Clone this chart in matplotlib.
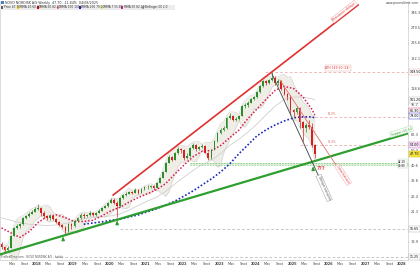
import numpy as np
import pandas as pd
import matplotlib
matplotlib.use("Agg")
import matplotlib.pyplot as plt
from matplotlib.patches import Rectangle
from matplotlib.ticker import NullLocator

first_open = 13.5
closes = [13.0, 12.4, 12.8, 15.1, 16.9, 17.4, 17.8, 19.4, 19.9, 20.6, 21.2, 22.1,
          22.4, 20.9, 19.9, 19.4, 19.9, 19.1, 18.4, 17.6, 17.1, 16.2, 17.8, 17.4,
          18.6, 19.4, 20.3, 19.9, 20.3, 20.9, 20.3, 20.9, 21.5, 22.4, 23.0, 24.0,
          25.0, 24.0, 23.0, 25.7, 26.8, 27.2, 28.0, 27.6, 28.8, 27.6, 29.2, 30.0,
          30.0, 30.4, 29.6, 31.8, 34.1, 37.0, 42.0, 45.7, 43.8, 48.4, 51.2, 50.5,
          45.1, 46.4, 51.9, 54.1, 51.2, 52.6, 53.4, 48.4, 45.1, 50.5, 57.2, 64.0,
          66.8, 68.7, 79.0, 81.2, 76.8, 77.9, 81.2, 93.5, 94.8, 97.5, 103.1, 106.1,
          113.7, 123.7, 132.7, 129.0, 134.6, 138.4, 129.0, 132.7, 118.6, 110.5, 106.1, 88.4,
          85.9, 90.9, 74.6, 68.7, 71.6, 69.6, 54.1, 47.7]
highs = [13.8, 13.2, 13.1, 15.4, 17.2, 17.9, 18.2, 19.7, 20.3, 21.0, 21.6, 22.5,
         23.6, 22.6, 21.3, 20.2, 20.4, 20.2, 19.5, 18.7, 17.9, 17.3, 18.2, 18.1,
         18.9, 19.8, 20.7, 20.8, 20.6, 21.3, 21.2, 21.2, 21.9, 22.8, 23.4, 24.4,
         25.6, 25.6, 24.6, 26.2, 27.3, 27.9, 28.5, 28.3, 29.4, 29.2, 29.7, 30.6,
         30.8, 31.0, 30.7, 32.2, 34.6, 37.6, 42.7, 47.0, 46.6, 48.9, 52.6, 52.0,
         50.9, 48.0, 52.4, 55.9, 54.6, 53.5, 54.8, 53.9, 49.0, 51.0, 57.9, 65.0,
         68.2, 70.0, 80.0, 84.0, 82.5, 79.5, 82.4, 95.0, 97.0, 100.3, 104.2, 107.5,
         115.0, 125.0, 134.5, 135.0, 136.0, 149.5, 141.0, 135.5, 134.0, 122.0, 112.0, 109.0,
         90.0, 93.5, 91.5, 76.0, 74.0, 77.0, 73.0, 55.0]
lows = [12.6, 12.1, 12.2, 12.7, 15.0, 16.6, 17.0, 17.6, 19.1, 19.6, 20.4, 21.0,
        21.8, 20.1, 19.3, 18.8, 19.0, 18.8, 18.0, 17.3, 16.8, 15.5, 16.0, 16.6,
        17.1, 18.4, 19.2, 19.5, 19.6, 20.1, 20.0, 20.1, 20.7, 21.3, 22.2, 22.8,
        23.8, 23.5, 19.6, 22.8, 25.4, 26.4, 27.0, 27.1, 27.4, 27.1, 27.4, 28.9,
        29.1, 29.6, 28.9, 29.4, 31.6, 33.8, 36.8, 41.7, 42.9, 43.6, 47.9, 48.3,
        44.0, 44.3, 45.8, 51.3, 49.4, 50.3, 51.9, 48.0, 43.8, 44.6, 50.0, 56.6,
        63.2, 65.4, 68.0, 78.0, 75.5, 75.8, 77.0, 80.8, 90.6, 91.5, 96.8, 101.0,
        104.5, 112.6, 122.5, 124.8, 127.0, 132.5, 126.0, 124.5, 117.0, 108.5, 102.0, 83.0,
        80.0, 83.5, 69.0, 57.5, 64.5, 68.0, 52.5, 45.1]

# moyennes mobiles relevees tous les 3 mois (index du mois)
ma_idx = list(range(0, 103, 3)) + [103]
mma50 = [16.9, 15.8, 14.8, 16.0, 18.2, 19.8, 20.3, 19.5, 18.5, 18.5, 18.8, 20.0,
         21.5, 22.6, 24.3, 25.9, 27.3, 28.9, 31.5, 36.0, 40.8, 45.9, 49.5, 50.0,
         53.5, 59.8, 66.4, 78.2, 89.5, 102.5, 116.3, 122.7, 119.1, 106.5, 89.3, 82.2]
mma100 = [19.5, 18.8, 18.2, 17.8, 17.6, 17.5, 17.6, 18.0, 18.6, 19.25, 19.55, 19.7,
          20.0, 20.6, 21.7, 23.2, 24.6, 26.0, 28.2, 31.3, 34.5, 37.8, 41.1, 43.6,
          47.9, 53.7, 58.5, 64.7, 72.6, 82.5, 93.2, 102.3, 105.8, 105.7, 103.2, 101.2]
ma200_idx = list(range(27, 103, 3)) + [103]
mma200 = [17.8, 18.1, 18.4, 18.8, 19.1, 19.7, 20.3, 21.2, 22.1, 23.3, 24.6, 26.4,
          28.4, 30.9, 33.6, 37.0, 41.4, 47.7, 54.1, 61.4, 66.8, 71.6, 75.7, 79.0,
          80.1, 80.1, 79.0]

# droites tracees (annee, prix)
resist_t, resist_p = [2020.10, 2026.81], [26.8, 383.7]
support_t, support_p = [2017.0, 2028.18], [11.65, 63.6]
fall_t, fall_p = [2024.45, 2025.99], [146.3, 26.1]
fall2_t, fall2_p = [2024.67, 2026.51], [134.2, 32.2]
fib_levels = [80.0, 54.0]
support_zone = [40.8, 42.1]
old_levels = [16.65, 11.25]
arrows_t = [2018.73, 2020.21, 2025.58]
arrows_p = [15.5, 19.4, 41.4]

# graduations visibles (les autres sont cachees par les etiquettes)
y_ticks = [13.9, 21.3, 26.4, 32.8, 40.6, 50.3, 62.3, 95.7, 118.6,
           182.1, 225.6, 279.5, 346.3]
years = list(range(2018, 2029))

W, H = 420, 265
fig = plt.figure(figsize=(W / 100, H / 100), dpi=100)
ax = fig.add_axes([0, 1 - 259.5 / H, 408 / W, 258.5 / H])
ax.set_xlim(2017.0, 2017 + 408 / 36.5)
ax.set_yscale("log")
ax.set_ylim(10.86, 405.9)

t = np.array([2017 + (i + 0.5) / 12 for i in range(len(closes))])
s = pd.Series(closes)
opens = [first_open] + closes[:-1]

# bandes de Bollinger
mid = s.rolling(5, min_periods=1).mean()
sd = s.rolling(5, min_periods=1).std(ddof=0)
upper, lower = mid + 2 * sd, mid - 2 * sd
ax.fill_between(t, lower, upper, color="#efeee6", lw=0, zorder=1)
ax.plot(t, upper, color="#cfcfcf", lw=0.4, zorder=1.2)
ax.plot(t, lower, color="#cfcfcf", lw=0.4, zorder=1.2)

# zones / niveaux horizontaux
ax.fill_between([2022.2, 2028.2], support_zone[0], support_zone[1], color="#dff0d8", lw=0, zorder=1.1)
for lv in support_zone:
    ax.plot([2022.2, 2028.2], [lv, lv], color="#5cb85c", lw=0.4, ls=(0, (3, 2)), zorder=1.3)
ath = max(highs)
ax.plot([2024.26, 2028.2], [ath, ath], color="#e8a0a0", lw=0.5, ls=(0, (4, 3)), zorder=1.3)
for lv in fib_levels:
    ax.plot([2025.22, 2028.2], [lv, lv], color="#e8a0a0", lw=0.5, ls=(0, (4, 3)), zorder=1.3)
ax.plot([2020.29, 2028.2], [old_levels[0]] * 2, color="#b0b0b0", lw=0.5, ls=(0, (4, 3)), zorder=1.3)
ax.plot([2018.5, 2028.2], [old_levels[1]] * 2, color="#b0b0b0", lw=0.5, ls=(0, (4, 3)), zorder=1.3)

# moyennes mobiles
ax.plot(t[ma_idx], mma100, color="#d0d0d0", lw=0.6, zorder=1.5)
ax.plot(t[ma200_idx], mma200, color="#1a2bb8", lw=1.2, ls=(0, (1, 1.2)), zorder=2)
ax.plot(t[ma_idx], mma50, color="#d81b50", lw=1.1, ls=(0, (1, 1.2)), zorder=2)

# bougies
up, down = "#2e8b2e", "#d62020"
cols = [up if c >= o else down for o, c in zip(opens, closes)]
ax.vlines(t, lows, highs, colors=cols, lw=0.5, zorder=3)
bottoms = [min(o, c) for o, c in zip(opens, closes)]
heights = [max(abs(c - o), 0.002 * c) for o, c in zip(opens, closes)]
ax.bar(t, heights, bottom=bottoms, width=0.048, color=cols, lw=0, zorder=3.1)

# droites
ax.plot(resist_t, resist_p, color="#e03030", lw=1.2, zorder=4)
ax.plot(support_t, support_p, color="#2e9e2e", lw=1.6, zorder=4)
ax.plot(fall_t, fall_p, color="#555555", lw=0.7, zorder=4)
ax.plot(fall2_t, fall2_p, color="#e07070", lw=0.6, zorder=4)

for xa, ya in zip(arrows_t, arrows_p):
    ax.annotate("", xy=(xa, ya), xytext=(xa, ya / 1.12),
                arrowprops=dict(arrowstyle="-|>", color="#2e9e2e", lw=1.0, mutation_scale=4))
ax.text(2025.8, 39.1, "???", color="#e05050", fontsize=3.6, ha="center", va="center",
        fontweight="bold", zorder=5)

# etiquettes des droites
lab = dict(fontsize=2.2, ha="center", va="center", rotation_mode="anchor", zorder=6)
ax.text(2026.43, 350, "Résistance oblique", color="#e03030", rotation=38,
        bbox=dict(boxstyle="square,pad=0.25", fc="white", ec="#e8a0a0", lw=0.3), **lab)
ax.text(2025.88, 29.6, "Oblique baissière", color="#555555", rotation=-66,
        bbox=dict(boxstyle="square,pad=0.25", fc="white", ec="#909090", lw=0.3), **lab)
ax.text(2026.40, 35.7, "Canal baissier", color="#e03030", rotation=-57,
        bbox=dict(boxstyle="square,pad=0.25", fc="white", ec="#e8a0a0", lw=0.3), **lab)
ax.text(2028.0, 65.2, "Support 63.60", color="#2e9e2e", rotation=16.5,
        bbox=dict(boxstyle="square,pad=0.25", fc="white", ec="#9fd49f", lw=0.3), **lab)
ax.text(2026.25, ath * 1.03, "ATH 149.50 (24)", color="#e03030", fontsize=2.2, ha="center",
        va="bottom", bbox=dict(boxstyle="square,pad=0.25", fc="white", ec="#e8a0a0", lw=0.3), zorder=6)
for lv, name in zip(fib_levels, ["50.0%", "61.8%"]):
    ax.text(2026.1, lv * 1.02, name, color="#e07070", fontsize=2.0, ha="center", va="bottom", zorder=6)

# etiquettes axe de droite
yt = ax.get_yaxis_transform()
tags = [(ath, "149.50", "#e8a0a0", "white"), (mma100[-1], "101.20", "#b0b0b0", "white"),
        (86.9, "86.90", "#d81b50", "white"), (mma200[-1] * 1.03, "79.00", "#1a2bb8", "white"),
        (fib_levels[1], "54.00", "#d060c0", "#f6e6f6"), (closes[-1], "47.70", "#c8b000", "#f5e642"),
        (old_levels[0], "16.65", "#b0b0b0", "white"), (old_levels[1] * 1.005, "11.25", "#b0b0b0", "white")]
for p, txt, ec, fc in tags:
    ax.text(1.004, p, txt, transform=yt, fontsize=2.3, ha="left", va="center", clip_on=False,
            bbox=dict(boxstyle="square,pad=0.3", fc=fc, ec=ec, lw=0.3), zorder=7)
ax.text(0.995, 41.45, "42.10\n40.80", transform=yt, fontsize=2.0, ha="right", va="center",
        linespacing=0.9, bbox=dict(boxstyle="square,pad=0.2", fc="white", ec="#9fd49f", lw=0.3), zorder=7)

# axes
ax.yaxis.tick_right()
ax.yaxis.set_minor_locator(NullLocator())
ax.set_yticks(y_ticks)
ax.set_yticklabels([f"{v:.1f}" for v in y_ticks])
ax.tick_params(axis="y", labelsize=2.5, length=1, width=0.3, pad=1, colors="#444444")
xt, xl = [], []
for yr in [2017] + years:
    for frac, name in [(0, str(yr)), (4 / 12, "May"), (8 / 12, "Sept")]:
        if 2017.01 < yr + frac < 2028.18:
            xt.append(yr + frac)
            xl.append(name)
ax.set_xticks(xt)
ax.set_xticklabels(xl)
ax.tick_params(axis="x", labelsize=2.5, length=1, width=0.3, pad=1, colors="#444444")
for lbl in ax.get_xticklabels():
    if lbl.get_text().isdigit():
        lbl.set_fontweight("bold")
for sp in ax.spines.values():
    sp.set_color("#cccccc")
    sp.set_linewidth(0.5)
ax.spines["top"].set_visible(False)

# entete et legende
fig.patches.append(Rectangle((0, 1 - 9.5 / H), 175 / W, 5 / H, transform=fig.transFigure,
                             fc="#ececec", ec="none", zorder=8))
fig.patches.append(Rectangle((1 / W, 1 - 4 / H), 3 / W, 3 / H, transform=fig.transFigure,
                             fc="#4a7fc0", ec="none", zorder=9))
fig.text(5 / W, 1 - 2.6 / H, "NOVO NORDISK A/S Weekly  47.70  -11.84%  04/08/2025", fontsize=2.3,
         va="center", color="#333333", zorder=9)
fig.text(419 / W, 1 - 2.6 / H, "www.prorealtime.com", fontsize=2.2, ha="right", va="center",
         color="#444444", zorder=9)
legend_items = [("Price 47.70", "#606060"), ("MMA 20 60.40", "#f0d000"), ("MMA 50 82.20", "#e00000"),
                ("MMA 100 101.2", "#f08080"), ("MMA 200 79.00", "#2020c0"), ("MMA 7 55.80", "#f0e060"),
                ("MMA 50 82.20", "#d020a0"), ("Bollinger 20 2.0", "#a0a0a0")]
legend_x = [1, 17, 37, 57, 79, 101, 121, 142]
for (txt, c), x0 in zip(legend_items, legend_x):
    fig.patches.append(Rectangle((x0 / W, 1 - 8.5 / H), 2.2 / W, 2.6 / H, transform=fig.transFigure,
                                 fc=c, ec="none", zorder=9))
    fig.text((x0 + 3) / W, 1 - 7.2 / H, txt, fontsize=2.1, va="center", color="#333333", zorder=9)
fig.text(1 / W, 1 - 257 / H, "ProRealTime.com - NOVO NORDISK A/S - hebdo", fontsize=1.9,
         va="center", color="#555555", zorder=9)

fig.savefig("out.png", dpi=100)
